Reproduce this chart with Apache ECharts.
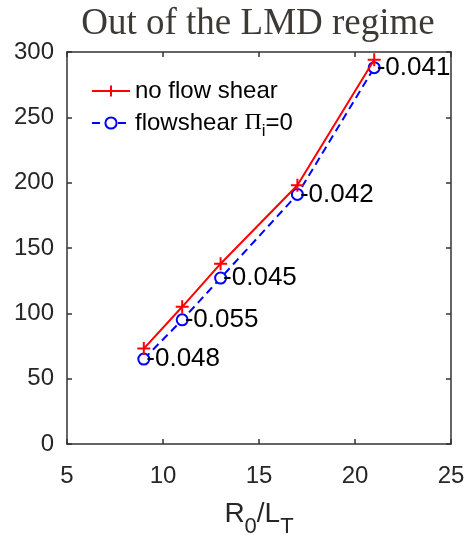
<!DOCTYPE html>
<html>
<head>
<meta charset="utf-8">
<script src="https://cdn.jsdelivr.net/npm/echarts@6/dist/echarts.min.js"></script>
<style>
  html, body { margin: 0; padding: 0; background: #fff; }
  #chart { width: 471px; height: 536px; }
</style>
</head>
<body>
<div id="chart"></div>
<script>
// R0/LT values used in both runs
var gradients = [9, 11, 13, 17, 21]
var noShear = [73, 105, 138, 198, 294]
var flowShear = [65, 95, 127, 191, 288]
// numbers written next to the flow shear points
var pointNotes = ['0.048', '0.055', '0.045', '0.042', '0.041']
var xTicks = [5, 10, 15, 20, 25]
var yTicks = [0, 50, 100, 150, 200, 250, 300]

var axisColor = '#333'
var textColor = '#262626'
var sans = 'Liberation Sans, Arial, sans-serif'

function pairs(xs, ys) {
    return xs.map(function (x, i) { return [x, ys[i]] })
}

var boxAxis = function (pos, min, max, step, showLabels) {
    return {
        type: 'value',
        position: pos,
        min: min,
        max: max,
        interval: step,
        splitLine: { show: false },
        axisLine: { show: true, onZero: false, lineStyle: { color: axisColor, width: 1.5 } },
        axisTick: { show: true, inside: true, length: 5, lineStyle: { color: axisColor, width: 1.5 } },
        axisLabel: { show: showLabels, color: textColor, fontFamily: sans, fontSize: 24 }
    }
}

var xMain = boxAxis('bottom', xTicks[0], xTicks[xTicks.length - 1], 5, true)
xMain.axisLabel.margin = 20
xMain.name = '{a|R}{s|0}{a|/L}{s|T}'
xMain.nameLocation = 'middle'
xMain.nameGap = 56
xMain.nameTextStyle = {
    color: textColor,
    fontFamily: sans,
    rich: {
        a: { fontSize: 28, fontFamily: sans, color: textColor, verticalAlign: 'top', lineHeight: 38 },
        s: { fontSize: 22, fontFamily: sans, color: textColor, verticalAlign: 'bottom', lineHeight: 38, padding: [16, 0, 0, 0] }
    }
}
var xTop = boxAxis('top', xTicks[0], xTicks[xTicks.length - 1], 5, false)

var yMain = boxAxis('left', yTicks[0], yTicks[yTicks.length - 1], 50, true)
yMain.axisLabel.margin = 13
yMain.axisLabel.padding = [4, 0, 0, 0]
var yRight = boxAxis('right', yTicks[0], yTicks[yTicks.length - 1], 50, false)

var option = {
    animation: false,
    backgroundColor: '#fff',
    title: {
        text: 'Out of the LMD regime',
        left: 253,
        textAlign: 'center',
        top: 1,
        textStyle: {
            fontFamily: 'Liberation Serif, Times New Roman, serif',
            fontWeight: 'normal',
            fontSize: 37,
            color: '#3d3935'
        }
    },
    grid: { left: 67, right: 20, top: 52, bottom: 92, containLabel: false, outerBoundsMode: 'none' },
    legend: {
        orient: 'vertical',
        left: 86,
        top: 74,
        itemWidth: 38,
        itemHeight: 14,
        itemGap: 8,
        textStyle: {
            fontFamily: sans,
            fontSize: 24,
            color: '#000',
            rich: {
                t: { fontFamily: sans, fontSize: 24, color: '#000' },
                g: { fontFamily: 'Liberation Serif, serif', fontSize: 24, color: '#000' },
                sub: { fontFamily: sans, fontSize: 17, color: '#000', padding: [16, 0, 0, 0] }
            }
        },
        formatter: function (name) {
            if (name === 'flowshear') return '{t|flowshear }{g|Π}{sub|i}{t|=0}'
            return '{t|' + name + '}'
        },
        data: ['no flow shear', 'flowshear']
    },
    xAxis: [xMain, xTop],
    yAxis: [yMain, yRight],
    series: [
        {
            name: 'no flow shear',
            type: 'line',
            data: pairs(gradients, noShear),
            symbol: 'path://M0,-1L0,1M-1,0L1,0',
            symbolSize: 13,
            lineStyle: { color: '#ff0000', width: 2 },
            itemStyle: { color: '#ff0000', borderColor: '#ff0000', borderWidth: 2 },
            z: 3
        },
        {
            name: 'flowshear',
            type: 'line',
            data: pairs(gradients, flowShear),
            symbol: 'emptyCircle',
            symbolSize: 11,
            lineStyle: { color: '#0000ff', width: 2, type: [8, 5] },
            itemStyle: { color: '#0000ff', borderColor: '#0000ff', borderWidth: 2 },
            label: {
                show: true,
                position: 'right',
                distance: -4,
                fontFamily: sans,
                fontSize: 26,
                color: '#000',
                padding: [3, 0, 0, 0],
                formatter: function (p) { return '-' + pointNotes[p.dataIndex] }
            },
            z: 2
        }
    ]
}

var chart = echarts.init(document.getElementById('chart'))
chart.setOption(option)
</script>
</body>
</html>
